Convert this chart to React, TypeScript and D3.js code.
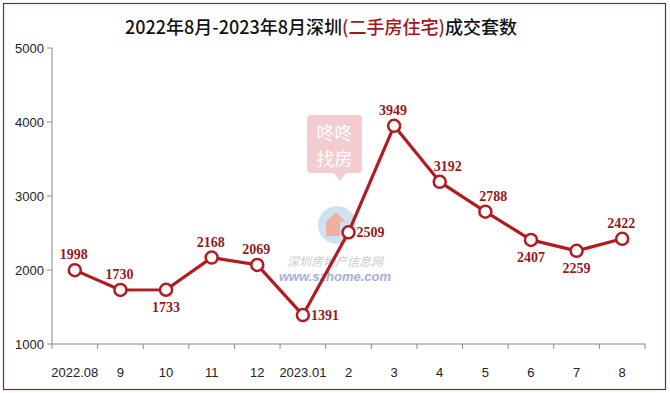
import React from "react";
import * as d3 from "d3";

const categories = ["2022.08", "9", "10", "11", "12", "2023.01", "2", "3", "4", "5", "6", "7", "8"];
const values = [1998, 1730, 1733, 2168, 2069, 1391, 2509, 3949, 3192, 2788, 2407, 2259, 2422];
const yTicks = [1000, 2000, 3000, 4000, 5000];
// label placement per point: t = top, tr = top-right, b = bottom, r = right
const labelPlace = ["t", "t", "b", "t", "t", "r", "r", "t", "tr", "tr", "b", "b", "t"];

const W = 670;
const H = 393;
const left = 52;
const right = 645;
const top = 48;
const bottom = 344;

const lineColor = "#B01C22";
const labelColor = "#961A1A";

export default function App() {
  const x = d3.scaleBand<string>().domain(categories).range([left, right]).padding(0);
  const y = d3.scaleLinear().domain([1000, 5000]).range([bottom, top]);
  const cx = (i: number) => (x(categories[i]) as number) + x.bandwidth() / 2;
  const cy = (i: number) => y(values[i]);
  const line = d3
    .line<number>()
    .x((_, i) => cx(i))
    .y((d) => y(d));

  const tickEdges = categories.map((c) => x(c) as number).concat([right]);

  const labelAttrs = (p: string) => {
    switch (p) {
      case "t":
        return { dx: -1, dy: -11, anchor: "middle" };
      case "tr":
        return { dx: 8, dy: -11, anchor: "middle" };
      case "b":
        return { dx: 0, dy: 22, anchor: "middle" };
      case "r":
        return { dx: 8, dy: 5, anchor: "start" };
      default:
        return { dx: 0, dy: -11, anchor: "middle" };
    }
  };

  return (
    <svg
      width={W}
      height={H}
      style={{ position: "absolute", left: 0, top: 0, background: "#fff" }}
    >
      <rect x={0} y={0} width={W} height={H} fill="#fff" />
      <rect x={3.5} y={3.5} width={662} height={386} fill="none" stroke="#7A2A2A" strokeWidth={1.2} />

      {/* title */}
      <text
        x={321}
        y={34}
        textAnchor="middle"
        fontFamily="'Noto Sans CJK SC', sans-serif"
        fontSize={18}
        fontWeight={500}
        fill="#111"
      >
        2022年8月-2023年8月深圳<tspan fill="#A01820">(二手房住宅)</tspan>成交套数
      </text>

      {/* watermark: 咚咚找房 */}
      <g opacity={0.55}>
        <rect x={307} y={115} width={55} height={58} rx={4} fill="#EBA4A8" />
        <path d="M334,173 L340,181 L346,173 Z" fill="#EBA4A8" />
        <text x={334.5} y={140} textAnchor="middle" fontFamily="'Noto Sans CJK SC', sans-serif" fontSize={18} fill="#fff">
          咚咚
        </text>
        <text x={334.5} y={166} textAnchor="middle" fontFamily="'Noto Sans CJK SC', sans-serif" fontSize={18} fill="#fff">
          找房
        </text>
      </g>
      {/* watermark: szhome logo */}
      <g opacity={0.5}>
        <circle cx={337} cy={225} r={19} fill="#9CC8EA" />
        <path d="M326,236 L326,222 L336,212 L346,222 L340,222 L340,236 Z" fill="#E0624A" />
        <text x={335} y={266} textAnchor="middle" fontFamily="'Noto Sans CJK SC', sans-serif" fontStyle="italic" fontSize={12} fill="#9A9A9A">
          深圳房地产信息网
        </text>
        <text x={335} y={281} textAnchor="middle" fontFamily="'Liberation Sans', Arial, sans-serif" fontStyle="italic" fontWeight="bold" fontSize={13} fill="#4A62B8">
          www.szhome.com
        </text>
      </g>

      {/* y axis */}
      <line x1={left} y1={top} x2={left} y2={bottom} stroke="#888" strokeWidth={1} />
      {yTicks.map((t) => (
        <g key={t}>
          <line x1={left - 5} x2={left} y1={y(t)} y2={y(t)} stroke="#888" />
          <text
            x={44}
            y={y(t) + 4.5}
            textAnchor="end"
            fontFamily="'Liberation Sans', Arial, sans-serif"
            fontSize={13}
            fill="#222"
          >
            {t}
          </text>
        </g>
      ))}

      {/* x axis */}
      <line x1={left} y1={bottom} x2={right} y2={bottom} stroke="#888" strokeWidth={1} />
      {tickEdges.map((e, i) => (
        <line key={i} x1={e} x2={e} y1={bottom} y2={bottom + 5} stroke="#888" />
      ))}
      {categories.map((c, i) => (
        <text
          key={c}
          x={cx(i)}
          y={377}
          textAnchor="middle"
          fontFamily="'Liberation Sans', Arial, sans-serif"
          fontSize={13}
          fill="#222"
        >
          {c}
        </text>
      ))}

      {/* line */}
      <path d={line(values) || ""} fill="none" stroke={lineColor} strokeWidth={3.2} strokeLinejoin="round" />
      {values.map((v, i) => (
        <circle key={i} cx={cx(i)} cy={cy(i)} r={6} fill="#fff" stroke={lineColor} strokeWidth={2.5} />
      ))}
      {values.map((v, i) => {
        const a = labelAttrs(labelPlace[i]);
        return (
          <text
            key={"l" + i}
            x={cx(i) + a.dx}
            y={cy(i) + a.dy}
            textAnchor={a.anchor as any}
            fontFamily="'Liberation Serif', 'Times New Roman', serif"
            fontWeight="bold"
            fontSize={14}
            fill={labelColor}
          >
            {v}
          </text>
        );
      })}
    </svg>
  );
}
